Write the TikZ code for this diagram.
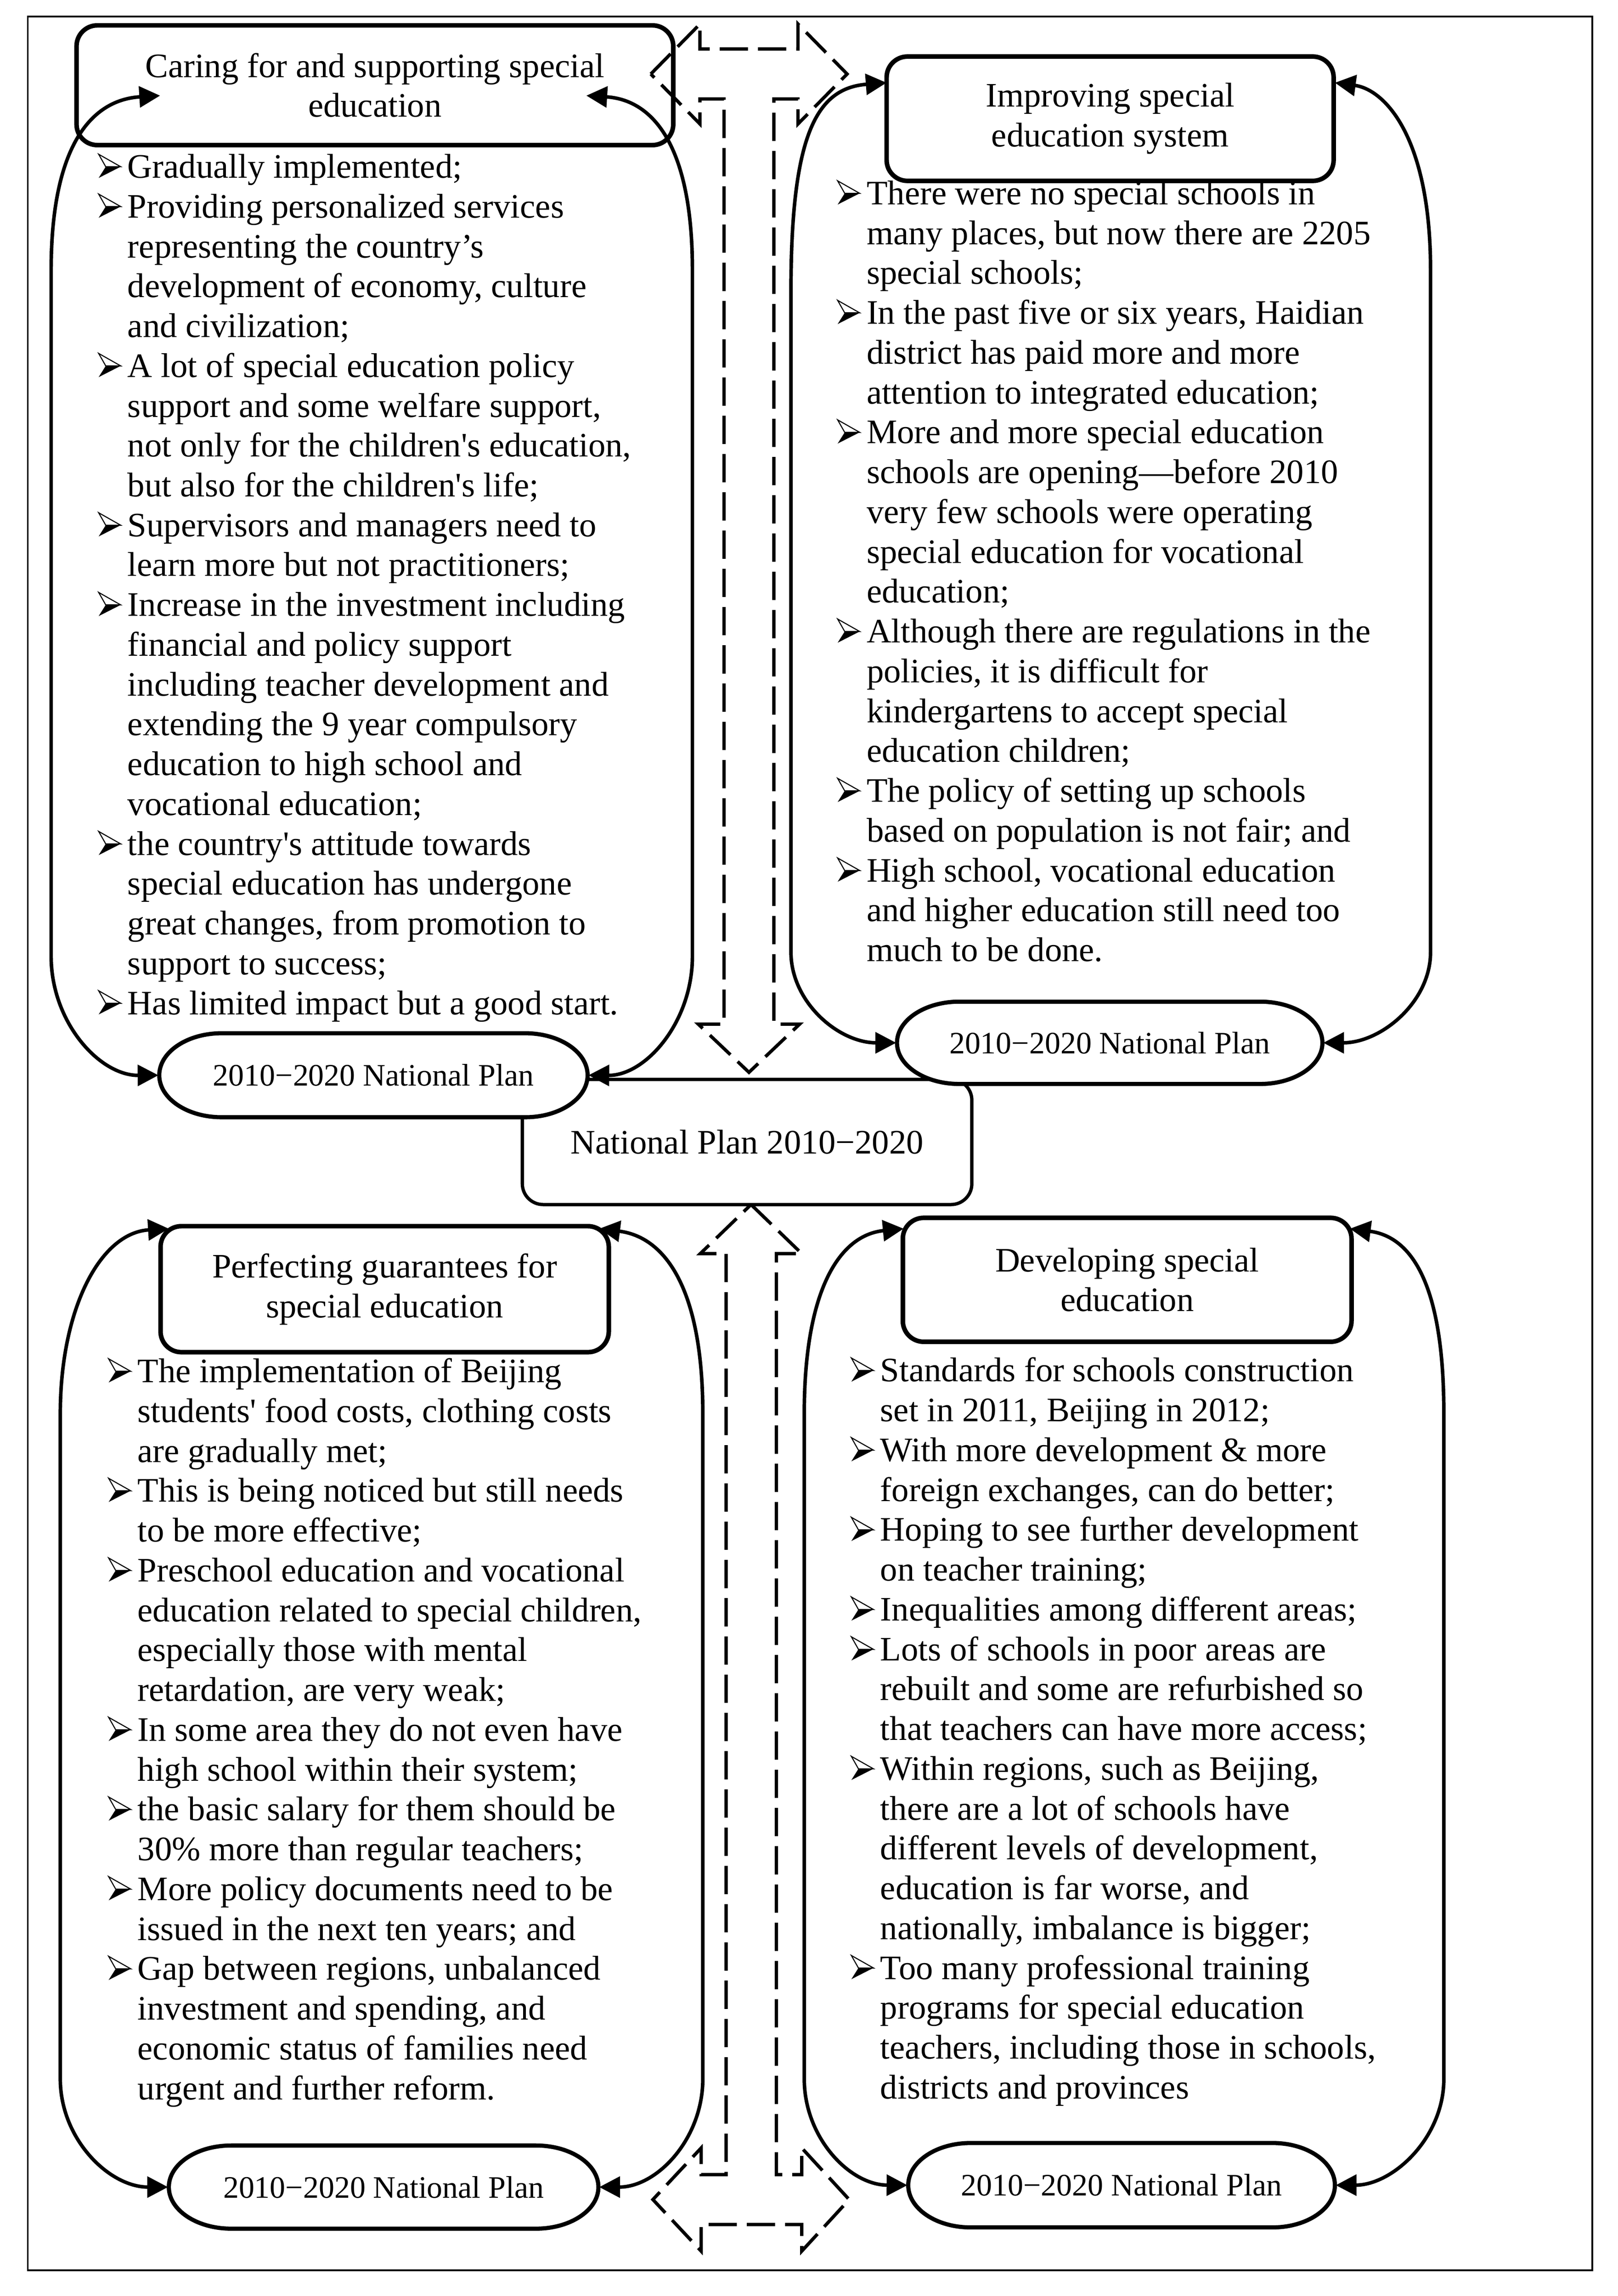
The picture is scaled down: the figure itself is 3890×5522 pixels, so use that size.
\documentclass[tikz,border=0pt]{standalone}
\usepackage{fontspec}
\setmainfont{Liberation Serif}
\usetikzlibrary{arrows.meta}
\newcommand\bodyfont{\fontsize{8.25}{9.58}\selectfont}
\newcommand\bulglyph{\tikz[x=1pt,y=1pt,baseline=0pt,line width=0.25pt,line join=miter]{%
  \draw (0,5.7) -- (5.3,2.7) -- (1.7,2.7) -- cycle;
  \fill (0,0) -- (5.3,2.7) -- (1.7,2.7) -- cycle;}}
\newcommand\bul{\llap{\makebox[7.1pt][l]{\bulglyph}}}
\newcommand\sq{\textquotesingle}
\tikzset{
  hdr/.style={draw, line width=1.1pt, rounded corners=5pt, align=center, inner sep=0pt, font=\bodyfont},
  ctr/.style={draw, line width=0.8pt, rounded corners=5pt, inner sep=0pt, font=\bodyfont},
  ellbox/.style={draw, line width=1pt, fill=white},
  elltext/.style={inner sep=0pt, font=\fontsize{7.5}{9}\selectfont},
  conn/.style={line width=0.85pt, >={Triangle[length=5pt,width=5pt]}, <->},
  dasharrow/.style={line width=0.8pt, dash pattern=on 6.8pt off 2.4pt, line join=miter},
  txt/.style={anchor=base west, inner sep=0pt, font=\bodyfont},
}
\newcommand\stadium[6]{%
  \pgfmathsetmacro\sxa{#2+150}%
  \pgfmathsetmacro\sxb{#4-150}%
  \pgfmathsetmacro\sxac{#2+67}%
  \pgfmathsetmacro\sxbc{#4-67}%
  \pgfmathsetmacro\scx{(#2+#4)/2}%
  \pgfmathsetmacro\scy{(#3+#5)/2}%
  \pgfmathsetmacro\sya{\scy-0.552*(#5-#3)/2}%
  \pgfmathsetmacro\syb{\scy+0.552*(#5-#3)/2}%
  \pgfmathsetmacro\sw{(#4-#2)/10}%
  \pgfmathsetmacro\sh{(#5-#3)/10}%
  \draw[ellbox] (\sxa,#3) -- (\sxb,#3) .. controls (\sxbc,#3) and (#4,\sya) .. (#4,\scy)
     .. controls (#4,\syb) and (\sxbc,#5) .. (\sxb,#5) -- (\sxa,#5)
     .. controls (\sxac,#5) and (#2,\syb) .. (#2,\scy)
     .. controls (#2,\sya) and (\sxac,#3) .. (\sxa,#3) -- cycle;
  \node[elltext, minimum width=\sw pt, minimum height=\sh pt] (#1) at (\scx,\scy) {#6};
}
\begin{document}
\begin{tikzpicture}[x=0.1pt,y=-0.1pt]
\useasboundingbox (0,0) rectangle (3890,5522);
\fill[white] (0,0) rectangle (3890,5522);
\draw[line width=0.4pt] (67,40) rectangle (3829,5460);

% centre box
\node[ctr, minimum width=108.1pt, minimum height=30.1pt] (ctr) at (1796.5,2746.5) {National Plan 2010−2020};

% ellipses
\stadium{ellTL}{383}{2485}{1413}{2687}{2010−2020 National Plan}
\stadium{ellTR}{2157}{2409}{3180}{2607}{2010−2020 National Plan}
\stadium{ellBL}{406}{5160}{1439}{5360}{2010−2020 National Plan}
\stadium{ellBR}{2184}{5154}{3210}{5357}{2010−2020 National Plan}

% headers
\node[hdr, minimum width=143.5pt, minimum height=28.8pt] (hdrTL) at (901.5,205) {Caring for and supporting special\\education};
\node[hdr, minimum width=107.5pt, minimum height=29.9pt] (hdrTR) at (2669.5,285.5) {Improving special\\education system};
\node[hdr, minimum width=107.8pt, minimum height=30.3pt] (hdrBL) at (925,3100.5) {Perfecting guarantees for\\special education};
\node[hdr, minimum width=107.9pt, minimum height=29.8pt] (hdrBR) at (2710.5,3078) {Developing special\\education};

% connector end points on the headers
\coordinate (cTLa) at (385,230);
\coordinate (cTLb) at (1410,230);
\coordinate (cTRa) at (2132,199);
\coordinate (cTRb) at (3210,199);
\coordinate (cBLa) at (406,2955);
\coordinate (cBLb) at (1441,2955);
\coordinate (cBRa) at (2173,2955);
\coordinate (cBRb) at (3246,2955);

% curved double arrows
\draw[conn] (ellTL.west) .. controls (239,2587) and (123,2458) .. (123,2300) -- (123,650)
   .. controls (123,350) and (220,240) .. (cTLa);
\draw[conn] (cTLb) .. controls (1570,240) and (1665,350) .. (1665,650) -- (1665,2300)
   .. controls (1665,2458) and (1553,2587) .. (ellTL.east);
\draw[conn] (ellTR.west) .. controls (2016,2508) and (1902,2410) .. (1902,2290) -- (1902,700)
   .. controls (1902,320) and (1965,212) .. (cTRa);
\draw[conn] (cTRb) .. controls (3330,215) and (3440,330) .. (3440,650) -- (3440,2290)
   .. controls (3440,2410) and (3321,2508) .. (ellTR.east);
\draw[conn] (ellBL.west) .. controls (262,5260) and (145,5144) .. (145,5000) -- (145,3400)
   .. controls (145,3150) and (240,2965) .. (cBLa);
\draw[conn] (cBLb) .. controls (1600,2975) and (1690,3100) .. (1690,3400) -- (1690,5000)
   .. controls (1690,5144) and (1580,5260) .. (ellBL.east);
\draw[conn] (ellBR.west) .. controls (2043,5255) and (1934,5141) .. (1934,5000) -- (1934,3400)
   .. controls (1934,3100) and (2020,2970) .. (cBRa);
\draw[conn] (cBRb) .. controls (3400,2975) and (3472,3100) .. (3472,3400) -- (3472,5000)
   .. controls (3472,5141) and (3350,5255) .. (ellBR.east);

% dashed block arrows
\draw[dasharrow] (1565,178) -- (1683,58) -- (1683,118) -- (1919,118) -- (1919,58) -- (2037,178)
   -- (1919,298) -- (1919,238) -- (1861,238) -- (1861,2463) -- (1923,2463) -- (1801,2579)
   -- (1679,2463) -- (1741,2463) -- (1741,238) -- (1683,238) -- (1683,298) -- cycle;
\draw[dasharrow] (1806,2897) -- (1928,3015) -- (1867,3015) -- (1867,5230) -- (1928,5230)
   -- (1928,5166) -- (2042,5290) -- (1928,5414) -- (1928,5350) -- (1686,5350) -- (1686,5414)
   -- (1570,5290) -- (1686,5166) -- (1686,5230) -- (1746,5230) -- (1746,3015) -- (1684,3015) -- cycle;

% text blocks
\foreach \t [count=\i from 0] in {
  {\bul Gradually implemented;},
  {\bul Providing personalized services},
  {representing the country’s},
  {development of economy, culture},
  {and civilization;},
  {\bul A lot of special education policy},
  {support and some welfare support,},
  {not only for the children\sq s education,},
  {but also for the children\sq s life;},
  {\bul Supervisors and managers need to},
  {learn more but not practitioners;},
  {\bul Increase in the investment including},
  {financial and policy support},
  {including teacher development and},
  {extending the 9 year compulsory},
  {education to high school and},
  {vocational education;},
  {\bul the country\sq s attitude towards},
  {special education has undergone},
  {great changes, from promotion to},
  {support to success;},
  {\bul Has limited impact but a good start.}}
  \node[txt] (tl\i) at (305,{428+95.8*\i}) {\t};

\foreach \t [count=\i from 0] in {
  {\bul There were no special schools in},
  {many places, but now there are 2205},
  {special schools;},
  {\bul In the past five or six years, Haidian},
  {district has paid more and more},
  {attention to integrated education;},
  {\bul More and more special education},
  {schools are opening—before 2010},
  {very few schools were operating},
  {special education for vocational},
  {education;},
  {\bul Although there are regulations in the},
  {policies, it is difficult for},
  {kindergartens to accept special},
  {education children;},
  {\bul The policy of setting up schools},
  {based on population is not fair; and},
  {\bul High school, vocational education},
  {and higher education still need too},
  {much to be done.}}
  \node[txt] (tr\i) at (2082,{492+95.8*\i}) {\t};

\foreach \t [count=\i from 0] in {
  {\bul The implementation of Beijing},
  {students\sq{} food costs, clothing costs},
  {are gradually met;},
  {\bul This is being noticed but still needs},
  {to be more effective;},
  {\bul Preschool education and vocational},
  {education related to special children,},
  {especially those with mental},
  {retardation, are very weak;},
  {\bul In some area they do not even have},
  {high school within their system;},
  {\bul the basic salary for them should be},
  {30\% more than regular teachers;},
  {\bul More policy documents need to be},
  {issued in the next ten years; and},
  {\bul Gap between regions, unbalanced},
  {investment and spending, and},
  {economic status of families need},
  {urgent and further reform.}}
  \node[txt] (bl\i) at (329,{3325+95.8*\i}) {\t};

\foreach \t [count=\i from 0] in {
  {\bul Standards for schools construction},
  {set in 2011, Beijing in 2012;},
  {\bul With more development \& more},
  {foreign exchanges, can do better;},
  {\bul Hoping to see further development},
  {on teacher training;},
  {\bul Inequalities among different areas;},
  {\bul Lots of schools in poor areas are},
  {rebuilt and some are refurbished so},
  {that teachers can have more access;},
  {\bul Within regions, such as Beijing,},
  {there are a lot of schools have},
  {different levels of development,},
  {education is far worse, and},
  {nationally, imbalance is bigger;},
  {\bul Too many professional training},
  {programs for special education},
  {teachers, including those in schools,},
  {districts and provinces}}
  \node[txt] (br\i) at (2115,{3323+95.8*\i}) {\t};
\end{tikzpicture}
\end{document}
